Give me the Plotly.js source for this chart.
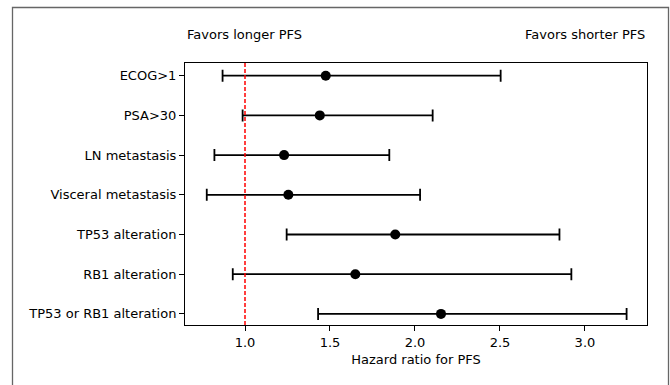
<!DOCTYPE html>
<html>
<head>
<meta charset="utf-8">
<script src="https://cdn.plot.ly/plotly-3.0.1.min.js"></script>
<style>html,body{margin:0;padding:0;background:#fff;}#chart{width:670px;height:385px;}</style>
</head>
<body>
<div id="chart"></div>
<script>
const categories = ["ECOG>1", "PSA>30", "LN metastasis", "Visceral metastasis", "TP53 alteration", "RB1 alteration", "TP53 or RB1 alteration"];
const hazardRatio = [1.475, 1.44, 1.23, 1.255, 1.884, 1.649, 2.153];
const ciLower = [0.868, 0.986, 0.82, 0.775, 1.245, 0.928, 1.43];
const ciUpper = [2.504, 2.104, 1.849, 2.03, 2.85, 2.92, 3.245];
const xTicks = [1.0, 1.5, 2.0, 2.5, 3.0];
const xTickLabels = ["1.0", "1.5", "2.0", "2.5", "3.0"];

const plus = hazardRatio.map((v, i) => ciUpper[i] - v);
const minus = hazardRatio.map((v, i) => v - ciLower[i]);

const font = {family: "DejaVu Sans, sans-serif", size: 13, color: "#000"};

const trace = {
  type: "scatter",
  mode: "markers",
  x: hazardRatio,
  y: categories,
  marker: {color: "#000", size: 10},
  error_x: {type: "data", symmetric: false, array: plus, arrayminus: minus, color: "#000", thickness: 1.8, width: 6},
  hoverinfo: "x+y",
  showlegend: false
};

const L = 185, R = 23, T = 63, B = 60;
const pw = 670 - L - R, ph = 385 - T - B;
const px = v => (v - L) / pw;
const py = v => (385 - B - v) / ph;

const layout = {
  width: 670, height: 385,
  margin: {l: L, r: R, t: T, b: B, pad: 0},
  paper_bgcolor: "#fff", plot_bgcolor: "#fff",
  font: font,
  xaxis: {
    range: [0.647, 3.365],
    tickvals: xTicks, ticktext: xTickLabels,
    ticks: "outside", ticklen: 5, tickwidth: 1, tickcolor: "#000",
    showgrid: false, zeroline: false,
    showline: true, linecolor: "#000", linewidth: 1, mirror: true,
    title: {text: "Hazard ratio for PFS", font: font, standoff: 6},
    tickfont: font
  },
  yaxis: {
    type: "category",
    categoryorder: "array", categoryarray: categories,
    range: [6.28, -0.32],
    ticks: "outside", ticklen: 5, tickwidth: 1, tickcolor: "#000",
    showgrid: false, zeroline: false,
    showline: true, linecolor: "#000", linewidth: 1, mirror: true,
    tickfont: font
  },
  shapes: [
    {type: "line", xref: "x", yref: "paper", x0: 1, x1: 1, y0: 0, y1: 1,
     line: {color: "red", width: 1.5, dash: "4px,2px"}},
    {type: "rect", xref: "paper", yref: "paper",
     x0: px(12.5), x1: px(668.5), y0: py(400), y1: py(7.5),
     line: {color: "#666", width: 1.3}, fillcolor: "rgba(0,0,0,0)", layer: "below"}
  ],
  annotations: [
    {text: "Favors longer PFS", xref: "paper", yref: "paper", x: 0, y: py(34), xanchor: "left", yanchor: "middle", showarrow: false, font: font},
    {text: "Favors shorter PFS", xref: "paper", yref: "paper", x: 1, y: py(34), xanchor: "right", yanchor: "middle", showarrow: false, font: font}
  ]
};

Plotly.newPlot("chart", [trace], layout, {displayModeBar: false, staticPlot: true});
</script>
</body>
</html>
